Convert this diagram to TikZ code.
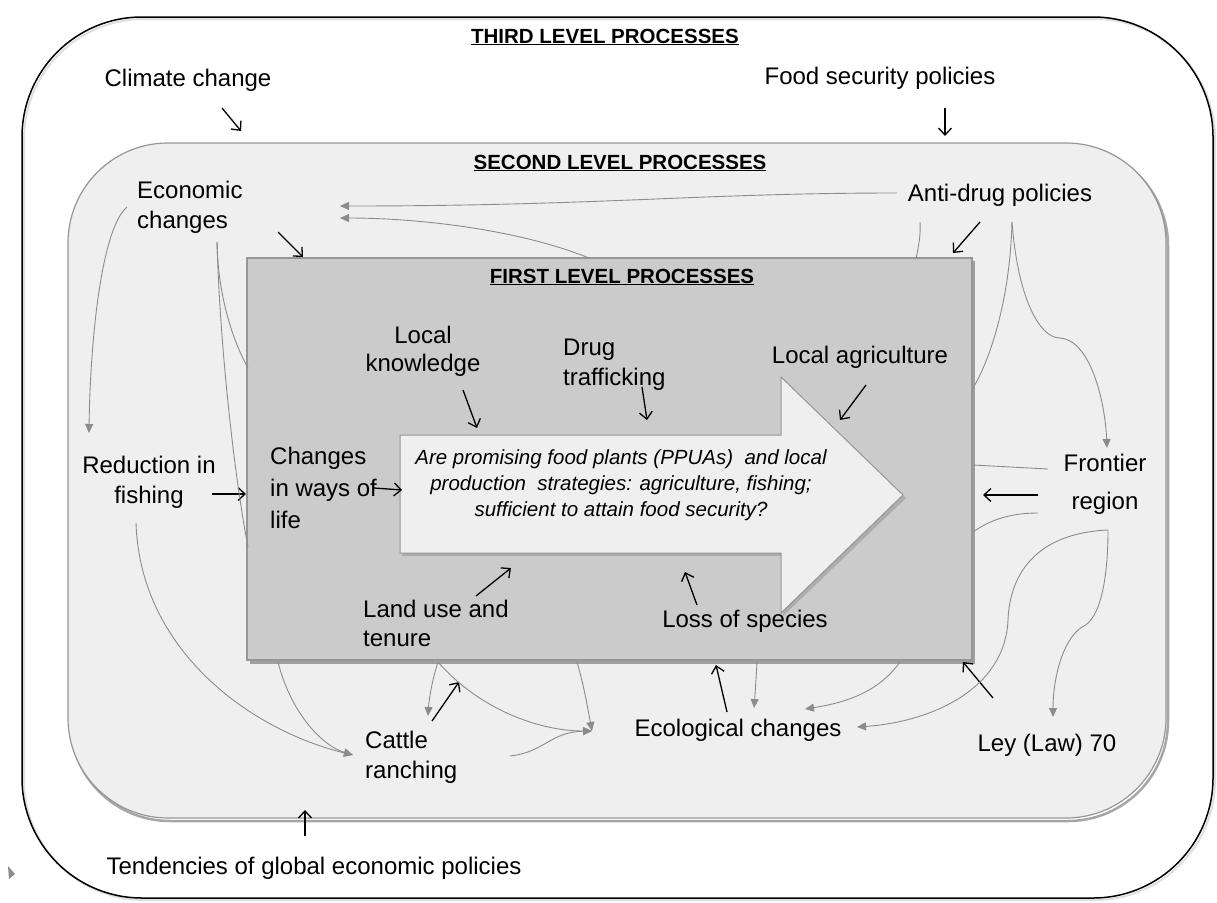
\documentclass[tikz,border=0pt]{standalone}
\usepackage{fontspec}
\setmainfont{Liberation Sans}
\usetikzlibrary{arrows.meta}

\definecolor{boxone}{RGB}{203,203,203}
\definecolor{boxtwo}{RGB}{239,239,239}
\definecolor{edgegray}{RGB}{150,150,150}
\definecolor{conn}{RGB}{140,140,140}

\tikzset{
  lbl/.style={font=\fontsize{24}{30}\selectfont, inner sep=0pt, align=center},
  lbll/.style={lbl, align=left, anchor=west},
  head/.style={font=\fontsize{20.5}{24}\selectfont\bfseries, inner sep=0pt},
  blk/.style={-{Straight Barb[length=7pt,width=13pt]}, line width=1.3pt},
  gry/.style={conn, line width=0.9pt},
  gryarr/.style={gry, -{Triangle[length=9pt,width=8pt]}},
}

\begin{document}
\begin{tikzpicture}[x=1pt,y=1pt,yscale=-1]
  \useasboundingbox (0,0) rectangle (1217,902);

  %Shape: outer box (third level)
  \draw [gray!25, line width=2pt, rounded corners=120] (24,19) rectangle (1215,900);
  \draw [line width=1.5pt, rounded corners=120] (22,17) rectangle (1213,898);
  %Shape: second level box
  \draw [gray!70, line width=2.5pt, rounded corners=100] (70,146) rectangle (1168,821);
  \draw [edgegray, fill=boxtwo, line width=1.2pt, rounded corners=100] (68,143) rectangle (1166,818);
  %Shape: first level box
  \fill [gray!75] (250,261) rectangle (975,664);
  \draw [edgegray, fill=boxone, line width=1.2pt] (247,258) rectangle (972,660);
  %Shape: big arrow
  \fill [gray!65] (402,438) -- (783,438) -- (783,380) -- (906,498) -- (783,616) -- (783,556) -- (402,556) -- cycle;
  \draw [edgegray, fill=boxtwo, line width=1pt] (400,435) -- (781,435) -- (781,377) -- (903,495) -- (781,613) -- (781,553) -- (400,553) -- cycle;

  % Text Node
  \node [head] (third) at (605,37) {\underline{THIRD LEVEL PROCESSES}};
  \node [head] (second) at (620,163) {\underline{SECOND LEVEL PROCESSES}};
  \node [head] (first) at (622,277) {\underline{FIRST LEVEL PROCESSES}};
  % Text Node
  \node [lbl] (climate) at (188,80) {Climate change};
  \node [lbl] (foodsec) at (880,78) {Food security policies};
  \node [lbll] (eco) at (137,207) {Economic\\changes};
  \node [lbl] (antidrug) at (1000,195) {Anti-drug policies};
  \node [lbl] (fishing) at (149,482) {Reduction in\\fishing};
  \node [lbl, font=\fontsize{24}{38}\selectfont] (frontier) at (1105,484) {Frontier\\region};
  \node [lbl] (ley) at (1047,745) {Ley (Law) 70};
  \node [lbl] (ecol) at (738,730) {Ecological changes};
  \node [lbll] (cattle) at (365,757) {Cattle\\ranching};
  \node [lbl] (tend) at (314,868) {Tendencies of global economic policies};
  % Text Node
  \node [lbl, font=\fontsize{24}{28}\selectfont] (know) at (423,351) {Local\\knowledge};
  \node [lbll] (drug) at (563,365) {Drug\\trafficking};
  \node [lbl] (agri) at (860,357) {Local agriculture};
  \node [lbll, font=\fontsize{24}{32}\selectfont] (ways) at (270,488) {Changes\\in ways of\\life};
  \node [lbll, font=\fontsize{24}{29}\selectfont] (land) at (363,623) {Land use and\\tenure};
  \node [lbl] (loss) at (745,621) {Loss of species};
  \node [lbl, font=\fontsize{20.5}{26}\selectfont\itshape] (question) at (621,485)
    {Are promising food plants (PPUAs)\ \ and local\\production\ \ strategies: agriculture, fishing;\\sufficient to attain food security?};
  % stray mark
  \fill [conn] (8,866) -- (15,874) -- (9,879) -- cycle;

  % end points of the connectors
  \foreach \n/\p in {b1/{222,108}, b1e/{241,131}, b2/{945,108}, b2e/{945,136},
      b3/{278,232}, b3e/{303,257}, b4/{980,222}, b4e/{953,253},
      b5/{212,494}, b5e/{246,494}, b6/{374,488}, b6e/{402,490},
      b7/{463,390}, b7e/{477,428}, b8/{642,387}, b8e/{647,420},
      b9/{866,385}, b9e/{840,420}, b10/{476,596}, b10e/{511,568},
      b11/{697,605}, b11e/{685,572}, b12/{1038,495}, b12e/{983,495},
      b13/{993,698}, b13e/{963,662}, b14/{727,712}, b14e/{716,665},
      b15/{432,721}, b15e/{459,682}, b16/{305,836}, b16e/{305,810}}
    \coordinate (\n) at (\p);
  \foreach \n/\p in {adA/{897,193}, adB/{920,222}, adC/{1012,222}, ecoA/{340,206}, ecoB/{340,218},
      ecoC/{127,207}, ecoD/{217,242}, topA/{589,258}, topB/{916,258}, rgtA/{973,388},
      frA/{1107,448}, fshA/{89,433}, lftA/{248,368}, lftB/{248,547},
      fshB/{136,523}, catA/{353,755}, botA/{278,662}, botB/{438,662}, botC/{577,662},
      botD/{757,662}, botE/{900,662}, catB/{428,716}, mrg/{592,731}, catC/{510,756},
      ecA/{754,708}, ecB/{805,709}, ecC/{857,727}, frB/{1108,530}, leyA/{1053,717},
      frC/{1048,469}, rgtB/{973,465}, frD/{1038,513}, rgtC/{973,532}}
    \coordinate (\n) at (\p);

  %Straight Lines: black arrows
  \foreach \s in {b1,b2,b3,b4,b5,b6,b7,b8,b9,b10,b11,b12,b13,b14,b15,b16}
    \draw [blk] (\s) -- (\s e);

  %Curve Lines: gray links
  \draw [gryarr] (adA) .. controls (700,193) and (600,206) .. (ecoA);
  \draw [gryarr] (topA) .. controls (520,230) and (420,218) .. (ecoB);
  \draw [gry] (adB) .. controls (921,235) and (918,250) .. (topB);
  \draw [gry] (adC) .. controls (1010,300) and (990,360) .. (rgtA);
  \draw [gryarr] (adC) .. controls (1018,300) and (1040,338) .. (1060,338) .. controls (1090,340) and (1105,400) .. (frA);
  \draw [gryarr] (ecoC) .. controls (100,230) and (90,350) .. (fshA);
  \draw [gry] (ecoD) .. controls (218,300) and (235,345) .. (lftA);
  \draw [gry] (ecoD) .. controls (220,350) and (235,480) .. (lftB);
  \draw [gryarr] (fshB) .. controls (140,650) and (250,730) .. (catA);
  \draw [gryarr] (botA) .. controls (290,710) and (320,745) .. (catA);
  \draw [gryarr] (botB) .. controls (432,680) and (429,700) .. (catB);
  \draw [gryarr] (botB) .. controls (480,710) and (540,731) .. (mrg);
  \draw [gryarr] (botC) .. controls (585,690) and (588,710) .. (mrg);
  \draw [gryarr] (catC) .. controls (545,752) and (550,732) .. (mrg);
  \draw [gryarr] (botD) .. controls (756,680) and (755,695) .. (ecA);
  \draw [gryarr] (botE) .. controls (880,690) and (850,702) .. (ecB);
  \draw [gryarr] (frB) .. controls (1040,533) and (1010,570) .. (1008,620) .. controls (1005,690) and (930,722) .. (ecC);
  \draw [gryarr] (frB) .. controls (1108,580) and (1100,620) .. (1082,627) .. controls (1062,640) and (1053,680) .. (leyA);
  \draw [gry] (frC) -- (rgtB);
  \draw [gry] (frD) .. controls (1010,513) and (990,520) .. (rgtC);

\end{tikzpicture}
\end{document}
